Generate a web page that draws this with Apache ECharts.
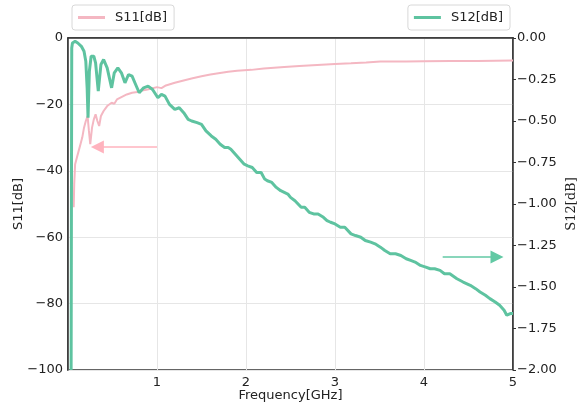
<!DOCTYPE html>
<html>
<head>
<meta charset="utf-8">
<script src="https://cdn.jsdelivr.net/npm/echarts@6/dist/echarts.min.js"></script>
<style>html,body{margin:0;padding:0;background:#fff}#c{width:582px;height:407px}</style>
</head>
<body>
<div id="c"></div>
<script>
// Categories / axis ticks
const xTicks = [1, 2, 3, 4, 5];
const s11Ticks = [0, -20, -40, -60, -80, -100];
const s12Ticks = [0, -0.25, -0.5, -0.75, -1, -1.25, -1.5, -1.75, -2];

// S11 [dB] (left axis): [frequency GHz, dB]
const s11Freq = [0.064,0.07,0.08,0.10,0.12,0.14,0.16,0.18,0.20,0.22,0.235,0.25,0.27,0.29,0.31,0.33,0.35,0.37,0.40,0.44,0.49,0.52,0.55,0.60,0.66,0.72,0.78,0.83,0.88,0.94,1.00,1.05,1.10,1.20,1.31,1.40,1.50,1.60,1.69,1.80,1.90,2.06,2.20,2.43,2.60,2.80,3.00,3.18,3.35,3.51,3.80,4.00,4.30,4.60,5.00];
const s11Vals = [-51,-44,-38,-36,-34,-32,-30,-27,-25,-23.5,-28,-32,-27,-24.5,-23,-25,-26.5,-23.5,-22,-20.5,-19.5,-19.8,-18.5,-17.8,-17,-16.5,-16.3,-15.8,-15.6,-15.2,-14.8,-15.1,-14.3,-13.5,-12.7,-12.1,-11.5,-11.0,-10.6,-10.2,-9.9,-9.6,-9.2,-8.7,-8.4,-8.1,-7.8,-7.6,-7.4,-7.1,-7.1,-7.0,-6.9,-6.9,-6.8];

// S12 [dB] (right axis)
const s12Freq = [0.035,0.042,0.05,0.08,0.11,0.15,0.18,0.20,0.215,0.225,0.24,0.26,0.29,0.31,0.34,0.37,0.40,0.44,0.49,0.52,0.56,0.60,0.64,0.68,0.72,0.76,0.80,0.85,0.90,0.95,1.01,1.05,1.09,1.14,1.20,1.25,1.30,1.35,1.39,1.45,1.50,1.55,1.61,1.66,1.71,1.76,1.80,1.83,1.88,1.93,1.98,2.02,2.07,2.12,2.17,2.21,2.24,2.29,2.34,2.39,2.43,2.47,2.50,2.55,2.62,2.66,2.71,2.76,2.81,2.87,2.91,2.95,3.00,3.06,3.11,3.18,3.23,3.29,3.34,3.40,3.45,3.51,3.56,3.62,3.68,3.74,3.80,3.85,3.90,3.96,4.02,4.07,4.12,4.18,4.23,4.29,4.37,4.44,4.52,4.58,4.63,4.69,4.74,4.80,4.85,4.90,4.93,4.97,5.00];
const s12Vals = [-2.0,-0.06,-0.03,-0.02,-0.03,-0.05,-0.08,-0.14,-0.30,-0.48,-0.20,-0.11,-0.11,-0.15,-0.32,-0.16,-0.13,-0.18,-0.30,-0.21,-0.18,-0.21,-0.27,-0.22,-0.23,-0.28,-0.33,-0.30,-0.29,-0.31,-0.36,-0.34,-0.35,-0.40,-0.43,-0.42,-0.45,-0.49,-0.50,-0.51,-0.52,-0.56,-0.59,-0.61,-0.64,-0.66,-0.66,-0.67,-0.70,-0.73,-0.76,-0.77,-0.78,-0.81,-0.81,-0.85,-0.86,-0.87,-0.90,-0.92,-0.93,-0.94,-0.96,-0.98,-1.02,-1.02,-1.05,-1.06,-1.06,-1.08,-1.10,-1.11,-1.12,-1.14,-1.14,-1.18,-1.19,-1.20,-1.22,-1.23,-1.24,-1.26,-1.28,-1.30,-1.30,-1.31,-1.33,-1.34,-1.35,-1.37,-1.38,-1.39,-1.39,-1.40,-1.42,-1.42,-1.45,-1.47,-1.49,-1.51,-1.53,-1.55,-1.57,-1.59,-1.61,-1.64,-1.67,-1.66,-1.66];

// Annotation arrows (data space)
const s11Arrow = [[1.0, -32.8], [0.33, -32.8]];
const s12Arrow = [[4.21, -1.32], [4.82, -1.32]];

const PINK = '#f4b7c2', GREEN = '#5ec3a0';
const PINK_ARROW = '#ffb3be', GREEN_ARROW = '#62c9a4';
const FONT = 'DejaVu Sans';
const minus = v => String(v).replace('-', '\u2212');

const chart = echarts.init(document.getElementById('c'), null, {renderer: 'canvas'});
chart.setOption({
  animation: false,
  backgroundColor: '#fff',
  textStyle: {fontFamily: FONT},
  grid: {left: 68, right: 69, top: 38, bottom: 37, containLabel: false, outerBoundsMode: 'none',
         show: true, borderColor: '#333', borderWidth: 1.5, backgroundColor: 'transparent'},
  legend: [
    {data: ['S11[dB]'], left: 72, top: 5, padding: [6, 7, 6, 6], icon: 'rect', itemWidth: 27, itemHeight: 3,
     itemGap: 10, borderColor: '#d8d8d8', borderWidth: 1, borderRadius: 3,
     textStyle: {fontSize: 13, color: '#222', fontFamily: FONT, padding: [0, 0, 0, 5]}},
    {data: ['S12[dB]'], right: 72, top: 5, padding: [6, 7, 6, 6], icon: 'rect', itemWidth: 27, itemHeight: 3,
     borderColor: '#d8d8d8', borderWidth: 1, borderRadius: 3,
     textStyle: {fontSize: 13, color: '#222', fontFamily: FONT, padding: [0, 0, 0, 5]}}
  ],
  xAxis: {
    type: 'value', min: 0, max: 5, interval: 1,
    name: 'Frequency[GHz]', nameLocation: 'middle', nameGap: 19, nameMoveOverlap: false,
    nameTextStyle: {fontSize: 13, color: '#222', fontFamily: FONT},
    axisLine: {show: true, lineStyle: {color: '#333', width: 1.5}},
    axisTick: {show: false},
    axisLabel: {fontSize: 13, color: '#222', margin: 6, fontFamily: FONT,
      formatter: v => xTicks.includes(v) ? String(v) : ''},
    splitLine: {show: true, lineStyle: {color: '#e6e6e6', width: 1}}
  },
  yAxis: [
    {type: 'value', min: -100, max: 0, interval: 20, position: 'left',
     name: 'S11[dB]', nameLocation: 'middle', nameGap: 43, nameRotate: 90, nameMoveOverlap: false,
     nameTextStyle: {fontSize: 13, color: '#222', fontFamily: FONT},
     axisLine: {show: true, lineStyle: {color: '#333', width: 1.5}},
     axisTick: {show: false},
     axisLabel: {fontSize: 13, color: '#222', margin: 5, fontFamily: FONT,
       formatter: v => s11Ticks.includes(v) ? minus(v) : ''},
     splitLine: {show: true, lineStyle: {color: '#e6e6e6', width: 1}}},
    {type: 'value', min: -2, max: 0, interval: 0.25, position: 'right',
     name: 'S12[dB]', nameLocation: 'middle', nameGap: 52, nameRotate: 90, nameMoveOverlap: false,
     nameTextStyle: {fontSize: 13, color: '#222', fontFamily: 'DejaVu Serif'},
     axisLine: {show: true, lineStyle: {color: '#333', width: 1.5}},
     axisTick: {show: true, length: 3, lineStyle: {color: '#333'}},
     axisLabel: {fontSize: 13, color: '#222', margin: 4, fontFamily: FONT,
       formatter: v => s12Ticks.some(t => Math.abs(t - v) < 1e-9) ? minus(v.toFixed(2)) : ''},
     splitLine: {show: false}}
  ],
  series: [
    {name: 'S11[dB]', type: 'line', yAxisIndex: 0, showSymbol: false, symbol: 'none',
     data: s11Freq.map((f, i) => [f, s11Vals[i]]),
     lineStyle: {color: PINK, width: 2}, itemStyle: {color: PINK},
     markLine: {silent: true, symbol: ['none', 'triangle'], symbolSize: [13, 13],
       label: {show: false}, lineStyle: {color: PINK_ARROW, width: 1.5, type: 'solid'},
       data: [[{coord: s11Arrow[0]}, {coord: s11Arrow[1]}]]}},
    {name: 'S12[dB]', type: 'line', yAxisIndex: 1, showSymbol: false, symbol: 'none',
     data: s12Freq.map((f, i) => [f, s12Vals[i]]),
     lineStyle: {color: GREEN, width: 3}, itemStyle: {color: GREEN},
     markLine: {silent: true, symbol: ['none', 'triangle'], symbolSize: [13, 13],
       label: {show: false}, lineStyle: {color: GREEN_ARROW, width: 1.5, type: 'solid'},
       data: [[{coord: s12Arrow[0]}, {coord: s12Arrow[1]}]]}}
  ]
});
</script>
</body>
</html>
